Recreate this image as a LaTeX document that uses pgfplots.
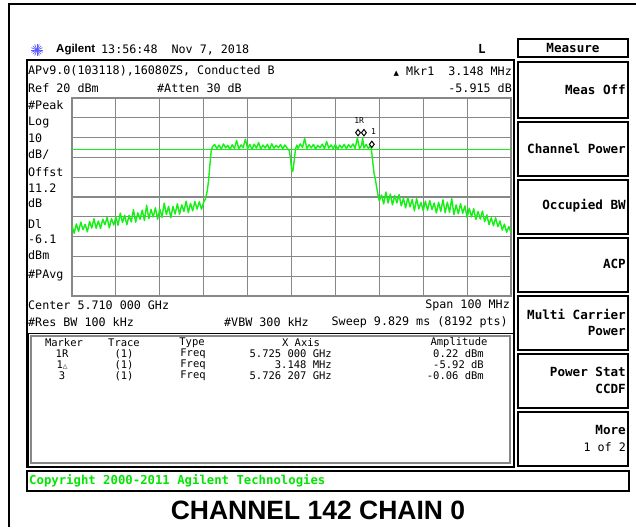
\documentclass[border=0pt]{standalone}
\usepackage{fontspec}
\usepackage{pgfplots}
\pgfplotsset{compat=1.18}
\setmainfont{DejaVu Sans Mono}
\newfontfamily\mono{DejaVu Sans Mono}
\newfontfamily\djs{DejaVu Sans}
\newfontfamily\sans{Liberation Sans}
\definecolor{trace}{RGB}{20,240,20}
\definecolor{gridgray}{RGB}{135,135,135}
\definecolor{cgreen}{RGB}{0,230,0}
\definecolor{agblue}{RGB}{90,90,255}
\newcommand\scr{\mono\fontsize{11.7}{13}\selectfont}
\newcommand\tbl{\mono\fontsize{10.5}{12}\selectfont}
\newcommand\skb{\mono\bfseries\fontsize{12.6}{14}\selectfont}
\begin{document}
\begin{tikzpicture}
\useasboundingbox (0,0) rectangle (636pt,-527pt);
\fill[white] (0,0) rectangle (636pt,-527pt);
\begin{scope}[x=1pt,y=-1pt,every node/.style={inner sep=0pt}]
 % outer frame
 \draw[line width=2pt] (8.5,527) -- (8.5,4) -- (636,4);
 % header
 \foreach \a in {0,22.5,...,337.5} \draw[agblue, line width=0.7pt] (37,50) -- ++(\a:6);
 \node[anchor=west, font=\sans\bfseries\fontsize{11.5}{13}\selectfont] at (56,50) {Agilent};
 \node[anchor=west, font=\scr] at (101,50) {13:56:48\ \ Nov 7, 2018};
 \node[font=\mono\bfseries\fontsize{12.5}{13}\selectfont] at (482,49) {L};
 % softkeys
 \draw[line width=1.5pt] (518,39) rectangle (628,57);
 \node[font=\skb] at (573,48) {Measure};
 \foreach \t/\b in {62/118,122/176,180/234,238/292,296/350,354/408,412/466}
   \draw[line width=1.8pt] (518,\t) rectangle (628,\b);
 \node[anchor=east, font=\skb] at (626,90) {Meas Off};
 \node[anchor=east, font=\skb] at (626,149) {Channel Power};
 \node[anchor=east, font=\skb] at (626,206) {Occupied BW};
 \node[anchor=east, font=\skb] at (626,264) {ACP};
 \node[anchor=east, font=\skb] at (626,314) {Multi Carrier};
 \node[anchor=east, font=\skb] at (626,331) {Power};
 \node[anchor=east, font=\skb] at (626,372) {Power Stat};
 \node[anchor=east, font=\skb] at (626,389) {CCDF};
 \node[anchor=east, font=\skb] at (626,430) {More};
 \node[anchor=east, font=\scr] at (626,447) {1 of 2};
 % screen
 \draw[line width=1.2pt] (27,60) rectangle (514,467);
 \draw[line width=1pt] (28,333) rectangle (513,466);
 \draw[gridgray, line width=1.2pt] (31,336) rectangle (510,463);
 \node[anchor=west, font=\scr] at (28,71) {APv9.0(103118),16080ZS, Conducted B};
 \node[anchor=west, font=\scr] at (28,88) {Ref 20 dBm};
 \node[anchor=west, font=\scr] at (157,88) {\#Atten 30 dB};
 \node[anchor=east, font=\scr] at (512,71) {{\djs\fontsize{7}{7}\selectfont ▲} Mkr1\ \ 3.148 MHz};
 \node[anchor=east, font=\scr] at (512,88) {-5.915 dB};
 \node[anchor=west, font=\scr] at (28,105) {\#Peak};
 \node[anchor=west, font=\scr] at (28,122) {Log};
 \node[anchor=west, font=\scr] at (28,138) {10};
 \node[anchor=west, font=\scr] at (28,155) {dB/};
 \node[anchor=west, font=\scr] at (28,172) {Offst};
 \node[anchor=west, font=\scr] at (28,188) {11.2};
 \node[anchor=west, font=\scr] at (28,203) {dB};
 \node[anchor=west, font=\scr] at (28,224) {Dl};
 \node[anchor=west, font=\scr] at (28,239) {-6.1};
 \node[anchor=west, font=\scr] at (28,255) {dBm};
 \node[anchor=west, font=\scr] at (28,275) {\#PAvg};
 \node[anchor=west, font=\scr] at (28,305) {Center 5.710 000 GHz};
 \node[anchor=east, font=\scr] at (510,305) {Span 100 MHz};
 \node[anchor=west, font=\scr] at (28,322) {\#Res BW 100 kHz};
 \node[anchor=west, font=\scr] at (224,322) {\#VBW 300 kHz};
 \node[anchor=east, font=\scr] at (508,322) {Sweep 9.829 ms (8192 pts)};
 % marker table
 \node[font=\tbl] at (64,343) {Marker};
 \node[font=\tbl] at (124,343) {Trace};
 \node[font=\tbl] at (192,343) {Type};
 \node[font=\tbl] at (301,343) {X Axis};
 \node[font=\tbl] at (459,343) {Amplitude};
 \node[font=\tbl] at (62,354) {1R};
 \node[font=\tbl] at (62,365) {1{\djs\fontsize{6}{6}\selectfont △}};
 \node[font=\tbl] at (62,376) {3};
 \foreach \yy in {354,365,376} {
   \node[font=\tbl] at (124,\yy) {(1)};
   \node[font=\tbl] at (193,\yy) {Freq};
 }
 \node[anchor=east, font=\tbl] at (332,354) {5.725 000 GHz};
 \node[anchor=east, font=\tbl] at (332,365) {3.148 MHz};
 \node[anchor=east, font=\tbl] at (332,376) {5.726 207 GHz};
 \node[anchor=east, font=\tbl] at (484,354) {0.22 dBm};
 \node[anchor=east, font=\tbl] at (484,365) {-5.92 dB};
 \node[anchor=east, font=\tbl] at (484,376) {-0.06 dBm};
 % copyright bar
 \draw[line width=1.2pt] (27,471) rectangle (629,491);
 \node[anchor=west, font=\mono\bfseries\fontsize{12.3}{13}\selectfont, text=cgreen] at (29,481) {Copyright 2000-2011 Agilent Technologies};
 % title
 \node[font=\sans\bfseries\fontsize{26.5}{28}\selectfont] at (318,510) {CHANNEL 142 CHAIN 0};
\end{scope}
\begin{axis}[at={(72pt,-296pt)}, anchor=south west, scale only axis,
  width=439pt, height=198pt,
  xmin=5660, xmax=5760, ymin=-80, ymax=20,
  xtick={5660,5670,...,5760}, ytick={-80,-70,...,20},
  xticklabels={}, yticklabels={}, major tick length=0pt,
  grid=major, grid style={gridgray, line width=1.1pt},
  axis line style={gridgray, line width=1.2pt}]
\addplot[trace, line width=0.5pt] coordinates {(5660,-6.1) (5760,-6.1)};
\addplot[trace, line width=1.4pt, line join=round] coordinates {
(5660.0,-44.5)(5660.5,-48.3)(5661.0,-43.6)(5661.5,-47.4)(5662.0,-42.7)(5662.5,-46.5)(5663.0,-43.8)(5663.5,-47.6)(5664.0,-42.4)(5664.5,-45.7)
(5665.0,-41.0)(5665.5,-45.8)(5666.0,-42.1)(5666.5,-45.9)(5667.0,-41.2)(5667.5,-44.0)(5668.0,-40.3)(5668.5,-45.6)(5669.0,-40.9)(5669.5,-44.2)
(5670.0,-40.0)(5670.5,-44.3)(5671.0,-38.1)(5671.5,-42.9)(5672.0,-39.2)(5672.5,-44.0)(5673.0,-39.3)(5673.5,-42.6)(5674.0,-36.4)(5674.5,-42.7)
(5675.0,-38.0)(5675.5,-41.3)(5676.0,-36.6)(5676.5,-41.9)(5677.0,-34.2)(5677.5,-41.0)(5678.0,-36.3)(5678.5,-40.1)(5679.0,-35.4)(5679.5,-41.2)
(5680.0,-36.0)(5680.5,-40.3)(5681.0,-33.1)(5681.5,-38.9)(5682.0,-34.7)(5682.5,-40.5)(5683.0,-34.8)(5683.5,-38.6)(5684.0,-33.4)(5684.5,-38.7)
(5685.0,-34.0)(5685.5,-37.3)(5686.0,-32.1)(5686.5,-37.9)(5687.0,-33.2)(5687.5,-37.0)(5688.0,-32.3)(5688.5,-36.1)(5689.0,-32.4)(5689.5,-36.2)
(5690.0,-32.5)(5690.4,-31)(5690.8,-27)(5691.1,-22)(5691.4,-14)(5691.7,-7)(5692.0,-4.5)
(5692.5,-3.5)(5693.0,-5.5)(5693.5,-3.8)(5694.0,-5.8)(5694.5,-3.2)(5695.0,-5.2)(5695.5,-3.9)(5696.0,-6.0)(5696.5,-3.6)(5697.0,-5.4)
(5697.5,-1.5)(5698.0,-5.6)(5698.5,-3.7)(5699.0,-5.0)(5699.5,-0.8)(5700.0,-5.5)(5700.5,-3.5)(5701.0,-5.9)(5701.5,-3.3)(5702.0,-5.3)
(5702.5,-2.5)(5703.0,-5.7)(5703.5,-3.8)(5704.0,-5.2)(5704.5,-3.4)(5705.0,-6.0)(5705.5,-3.1)(5706.0,-5.4)(5706.5,-3.9)(5707.0,-5.1)
(5707.5,-3.5)(5708.0,-5.6)(5708.5,-3.7)(5709.0,-5.3)(5709.5,-6.5)(5709.8,-11)(5710.0,-16)(5710.3,-17)(5710.6,-12)(5710.9,-6)
(5711.2,-3.8)(5711.5,-5.4)(5712.0,-3.2)(5712.5,-5.0)(5713.0,-0.5)(5713.5,-5.5)(5714.0,-3.6)(5714.5,-5.2)(5715.0,-3.4)(5715.5,-5.8)
(5716.0,-3.9)(5716.5,-5.1)(5717.0,-3.3)(5717.5,-5.6)(5718.0,-2.0)(5718.5,-5.3)(5719.0,-3.7)(5719.5,-5.5)(5720.0,-3.5)(5720.5,-5.9)
(5721.0,-3.8)(5721.5,-5.2)(5722.0,-3.4)(5722.5,-5.6)(5723.0,-3.6)(5723.5,-5.0)(5724.0,-3.2)(5724.5,-5.4)(5725.0,-0.2)(5725.5,-5.5)
(5726.0,-3.7)(5726.2,-0.1)(5726.5,-5.2)(5727.0,-3.5)(5727.5,-5.5)(5728.0,-4.0)(5728.2,-6.0)(5728.5,-12)(5728.8,-18)(5729.1,-21)
(5729.4,-25)(5729.7,-29)(5730.0,-32)
(5730.5,-29)(5731.0,-33.5)(5731.5,-27.5)(5732.0,-33)(5732.5,-28.5)(5733.0,-34)(5733.5,-29.25)(5734.0,-33)(5734.5,-28.75)(5735.0,-34.5)
(5735.5,-30.75)(5736.0,-35.5)(5736.5,-30.25)(5737.0,-35)(5737.5,-31.25)(5738.0,-37)(5738.5,-30.75)(5739.0,-36)(5739.5,-32.75)(5740.0,-37)
(5740.5,-32.1)(5741.0,-36.7)(5741.5,-31.8)(5742.0,-36.4)(5742.5,-33)(5743.0,-38.1)(5743.5,-32.7)(5744.0,-37.3)(5744.5,-31.4)(5745.0,-38)
(5745.5,-32.6)(5746.0,-37.7)(5746.5,-30.8)(5747.0,-38.9)(5747.5,-34)(5748.0,-38.5)(5748.5,-33.3)(5749.0,-38.2)(5749.5,-34.5)(5750.0,-40.3)
(5750.5,-35.7)(5751.0,-40)(5751.5,-35.9)(5752.0,-41.3)(5752.5,-37.3)(5753.0,-41.2)(5753.5,-37.1)(5754.0,-42.5)(5754.5,-39)(5755.0,-44)
(5755.5,-40.5)(5756.0,-44.5)(5756.5,-40.5)(5757.0,-45)(5757.5,-42.1)(5758.0,-46.7)(5758.5,-43.7)(5759.0,-47.8)(5759.5,-44.9)(5760.0,-48)
};
\addplot[only marks, mark=diamond*, mark size=3.2pt, mark options={fill=white, draw=black, line width=1pt}] coordinates {(5725.15,2.5) (5726.5,2.5) (5728.3,-3.4)};
\node[font=\mono\fontsize{8}{8}\selectfont, inner sep=0pt] at (axis cs:5725.4,8.4) {1R};
\node[font=\mono\fontsize{8}{8}\selectfont, inner sep=0pt] at (axis cs:5728.7,2.8) {1};
\end{axis}
\end{tikzpicture}
\end{document}
